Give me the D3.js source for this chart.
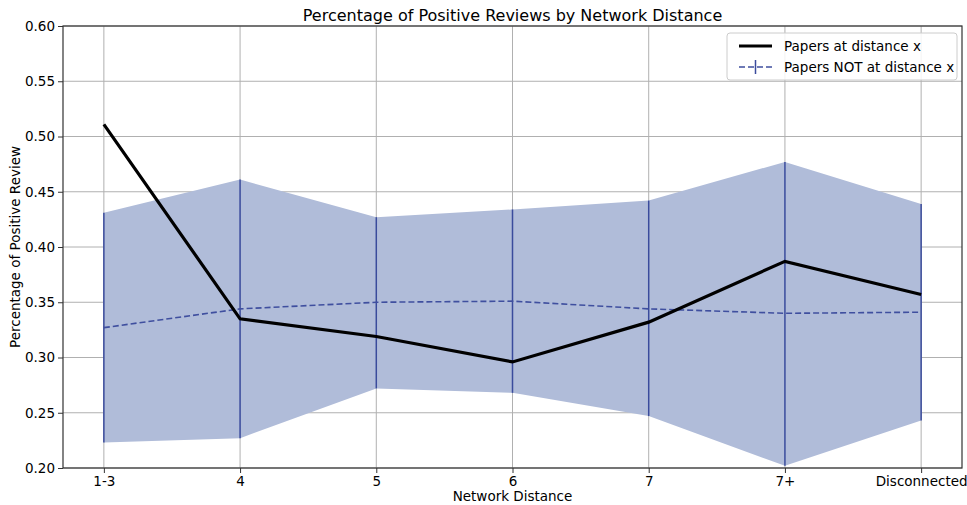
<!DOCTYPE html>
<html>
<head>
<meta charset="utf-8">
<script src="https://cdn.jsdelivr.net/npm/d3@7"></script>
<style>
  body { margin: 0; background: #fff; }
  svg { display: block; font-family: "DejaVu Sans", sans-serif; }
</style>
</head>
<body>
<svg id="chart" width="967" height="505"></svg>
<script>
const categories = ["1-3", "4", "5", "6", "7", "7+", "Disconnected"];
const papersAt = [0.511, 0.335, 0.319, 0.296, 0.332, 0.387, 0.357];
const papersNot = [0.327, 0.344, 0.350, 0.351, 0.344, 0.340, 0.341];
const notUpper = [0.431, 0.461, 0.427, 0.434, 0.442, 0.477, 0.439];
const notLower = [0.223, 0.227, 0.272, 0.268, 0.247, 0.202, 0.243];
const yTicks = [0.20, 0.25, 0.30, 0.35, 0.40, 0.45, 0.50, 0.55, 0.60];

(function () {
const svg = d3.select("#chart");
const pL = 63, pR = 962, pT = 26, pB = 468;

const x = d3.scaleLinear().domain([-0.3, categories.length - 1 + 0.3]).range([pL, pR]);
const y = d3.scaleLinear().domain([0.20, 0.60]).range([pB, pT]);

const idx = d3.range(categories.length);

// Grid
const g = svg.append("g");
g.selectAll(".vg").data(idx).join("line")
  .attr("x1", d => x(d)).attr("x2", d => x(d)).attr("y1", pT).attr("y2", pB)
  .attr("stroke", "#b0b0b0").attr("stroke-width", 1);
g.selectAll(".hg").data(yTicks).join("line")
  .attr("x1", pL).attr("x2", pR).attr("y1", d => y(d)).attr("y2", d => y(d))
  .attr("stroke", "#b0b0b0").attr("stroke-width", 1);

// Band
const area = d3.area().x(d => x(d)).y0(d => y(notLower[d])).y1(d => y(notUpper[d]));
svg.append("path").datum(idx).attr("d", area).attr("fill", "#b0bcd9");

// Error bars
svg.selectAll(".eb").data(idx).join("line")
  .attr("x1", d => x(d)).attr("x2", d => x(d))
  .attr("y1", d => y(notLower[d])).attr("y2", d => y(notUpper[d]))
  .attr("stroke", "#3a4b9c").attr("stroke-width", 1.5);

// Dashed line
const lineNot = d3.line().x(d => x(d)).y(d => y(papersNot[d]));
svg.append("path").datum(idx).attr("d", lineNot)
  .attr("fill", "none").attr("stroke", "#3f4f9f").attr("stroke-width", 1.6)
  .attr("stroke-dasharray", "6,3");

// Black line
const lineAt = d3.line().x(d => x(d)).y(d => y(papersAt[d]));
svg.append("path").datum(idx).attr("d", lineAt)
  .attr("fill", "none").attr("stroke", "#000").attr("stroke-width", 3.2)
  .attr("stroke-linejoin", "miter");

// Axes
const xAxis = d3.axisBottom(x).tickValues(idx).tickFormat(i => categories[i]).tickSize(5).tickSizeOuter(0);
const yAxis = d3.axisLeft(y).tickValues(yTicks).tickFormat(d3.format(".2f")).tickSize(5).tickSizeOuter(0);
const xa = svg.append("g").attr("transform", `translate(0,${pB})`).call(xAxis);
const ya = svg.append("g").attr("transform", `translate(${pL},0)`).call(yAxis);
[xa, ya].forEach(a => {
  a.select(".domain").remove();
  a.selectAll(".tick line").attr("stroke", "#333").attr("stroke-width", 1);
  a.selectAll(".tick text").attr("fill", "#000").attr("font-size", 13.5)
    .attr("font-family", "DejaVu Sans, sans-serif");
});
xa.selectAll(".tick text").attr("dy", "0.71em");

// Frame
svg.append("rect").attr("x", pL).attr("y", pT).attr("width", pR - pL).attr("height", pB - pT)
  .attr("fill", "none").attr("stroke", "#333").attr("stroke-width", 1.2);

// Title and labels
svg.append("text").attr("x", (pL + pR) / 2).attr("y", 21).attr("text-anchor", "middle")
  .attr("font-size", 16).text("Percentage of Positive Reviews by Network Distance");
svg.append("text").attr("x", (pL + pR) / 2).attr("y", 501).attr("text-anchor", "middle")
  .attr("font-size", 13.5).text("Network Distance");
svg.append("text").attr("transform", `translate(20,${(pT + pB) / 2}) rotate(-90)`)
  .attr("text-anchor", "middle").attr("font-size", 13.5).text("Percentage of Positive Review");

// Legend
const lg = svg.append("g").attr("transform", "translate(727,33)");
lg.append("rect").attr("width", 230).attr("height", 47).attr("rx", 3)
  .attr("fill", "rgba(255,255,255,0.85)").attr("stroke", "#ccc").attr("stroke-width", 1);
lg.append("line").attr("x1", 12).attr("x2", 45).attr("y1", 13).attr("y2", 13)
  .attr("stroke", "#000").attr("stroke-width", 3.2);
lg.append("line").attr("x1", 12).attr("x2", 45).attr("y1", 34).attr("y2", 34)
  .attr("stroke", "#3f4f9f").attr("stroke-width", 1.6).attr("stroke-dasharray", "6,3");
lg.append("line").attr("x1", 28.5).attr("x2", 28.5).attr("y1", 27).attr("y2", 41)
  .attr("stroke", "#3a4b9c").attr("stroke-width", 1.5);
lg.append("text").attr("x", 57).attr("y", 18).attr("font-size", 13.5).text("Papers at distance x");
lg.append("text").attr("x", 57).attr("y", 39).attr("font-size", 13.5).text("Papers NOT at distance x");
})();
</script>
</body>
</html>
